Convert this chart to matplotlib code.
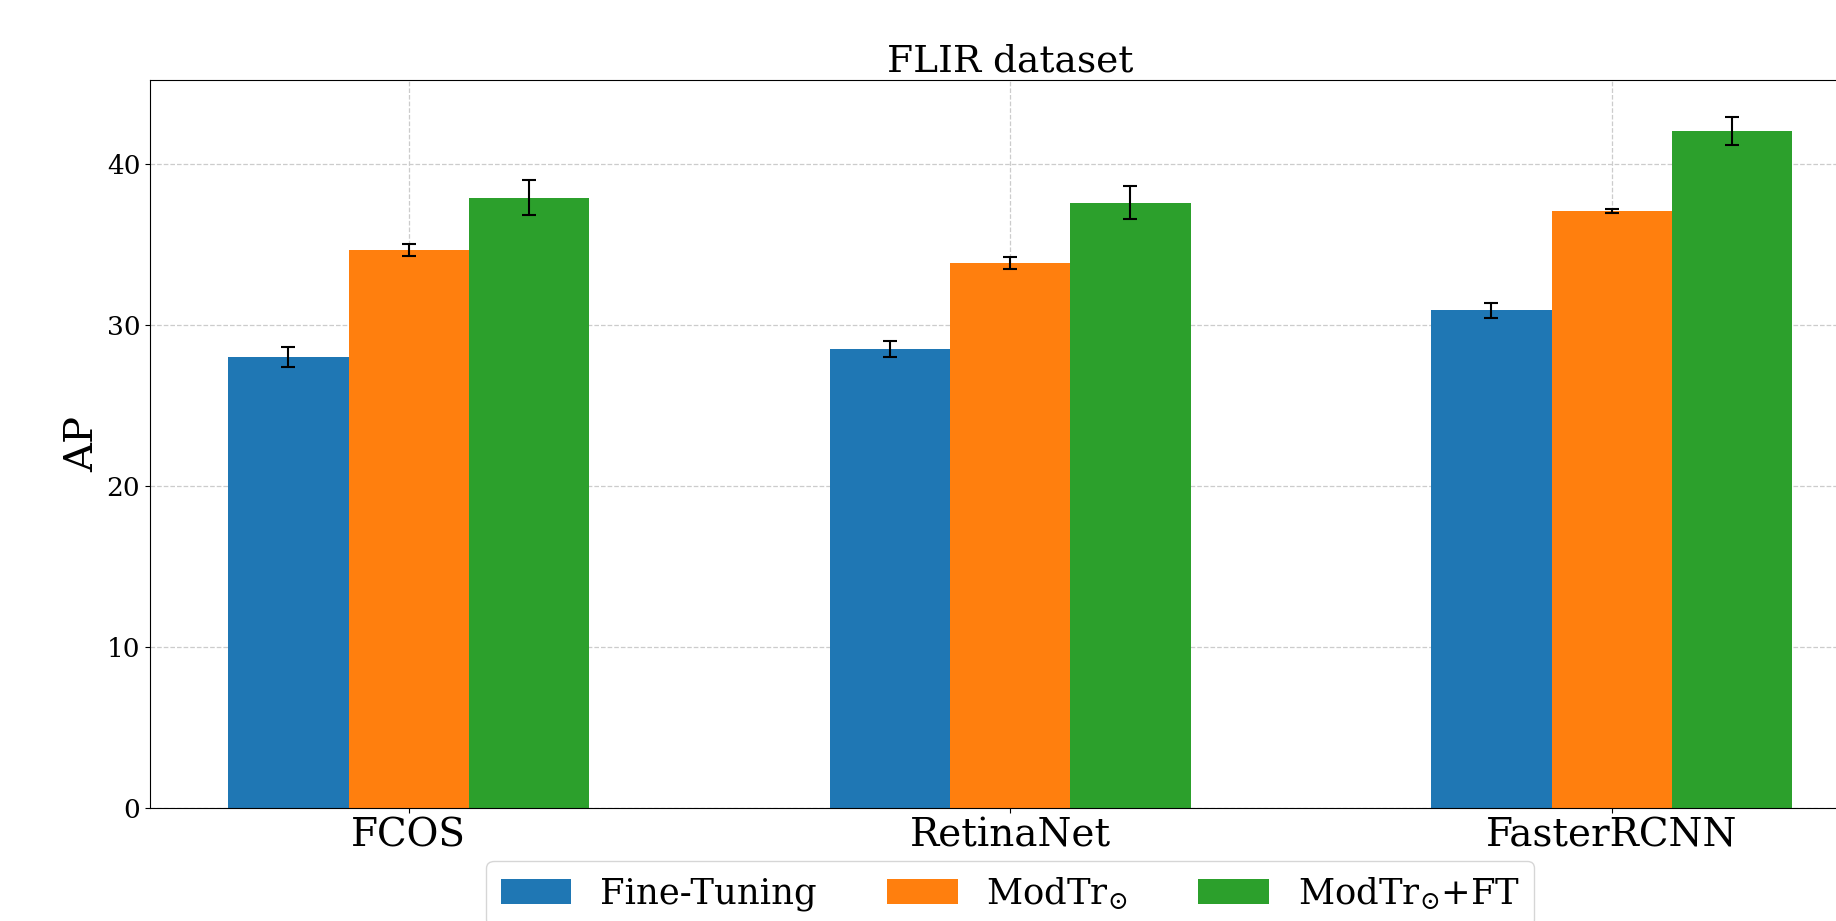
import matplotlib
matplotlib.use("Agg")
import matplotlib.pyplot as plt
import numpy as np

plt.rcParams['font.family'] = ['DejaVu Serif']
plt.rcParams['mathtext.fontset'] = 'dejavuserif'

# data
models = ["FCOS", "RetinaNet", "FasterRCNN"]
methods = ["Fine-Tuning", r"ModTr$_{\odot}$", r"ModTr$_{\odot}$+FT"]
ap_ft = [28.0, 28.5, 30.9]
ap_modtr = [34.65, 33.85, 37.05]
ap_modtr_ft = [37.9, 37.6, 42.05]
err_ft = [0.6, 0.5, 0.45]
err_modtr = [0.35, 0.35, 0.12]
err_modtr_ft = [1.1, 1.05, 0.85]

colors = ['#1f77b4', '#ff7f0e', '#2ca02c']

fig = plt.figure(figsize=(18.36, 9.21), dpi=100)
ax = fig.add_axes([0.0817, 0.1227, 0.937, 0.7903])  # right edge runs off the canvas

x = np.arange(len(models))
w = 0.2
series = [ap_ft, ap_modtr, ap_modtr_ft]
errs = [err_ft, err_modtr, err_modtr_ft]
for i in range(3):
    ax.bar(x + (i - 1) * w, series[i], w, yerr=errs[i], color=colors[i],
           label=methods[i], capsize=5,
           error_kw=dict(ecolor='black', elinewidth=1.5, capthick=1.5), zorder=2)

ax.set_ylim(0, 45.2)
ax.set_xticks(x)
ax.set_xticklabels(models, fontsize=28)
ax.tick_params(axis='y', labelsize=19)
ax.set_ylabel("AP", fontsize=29)
ax.set_title("FLIR dataset", fontsize=27)
ax.grid(True, linestyle='--', color='#cccccc', linewidth=0.9, zorder=0)
ax.set_axisbelow(True)

ax.legend(loc='upper center', bbox_to_anchor=(0.5, -0.048), ncol=3, fontsize=25.5)

fig.savefig("out.png", dpi=100)
